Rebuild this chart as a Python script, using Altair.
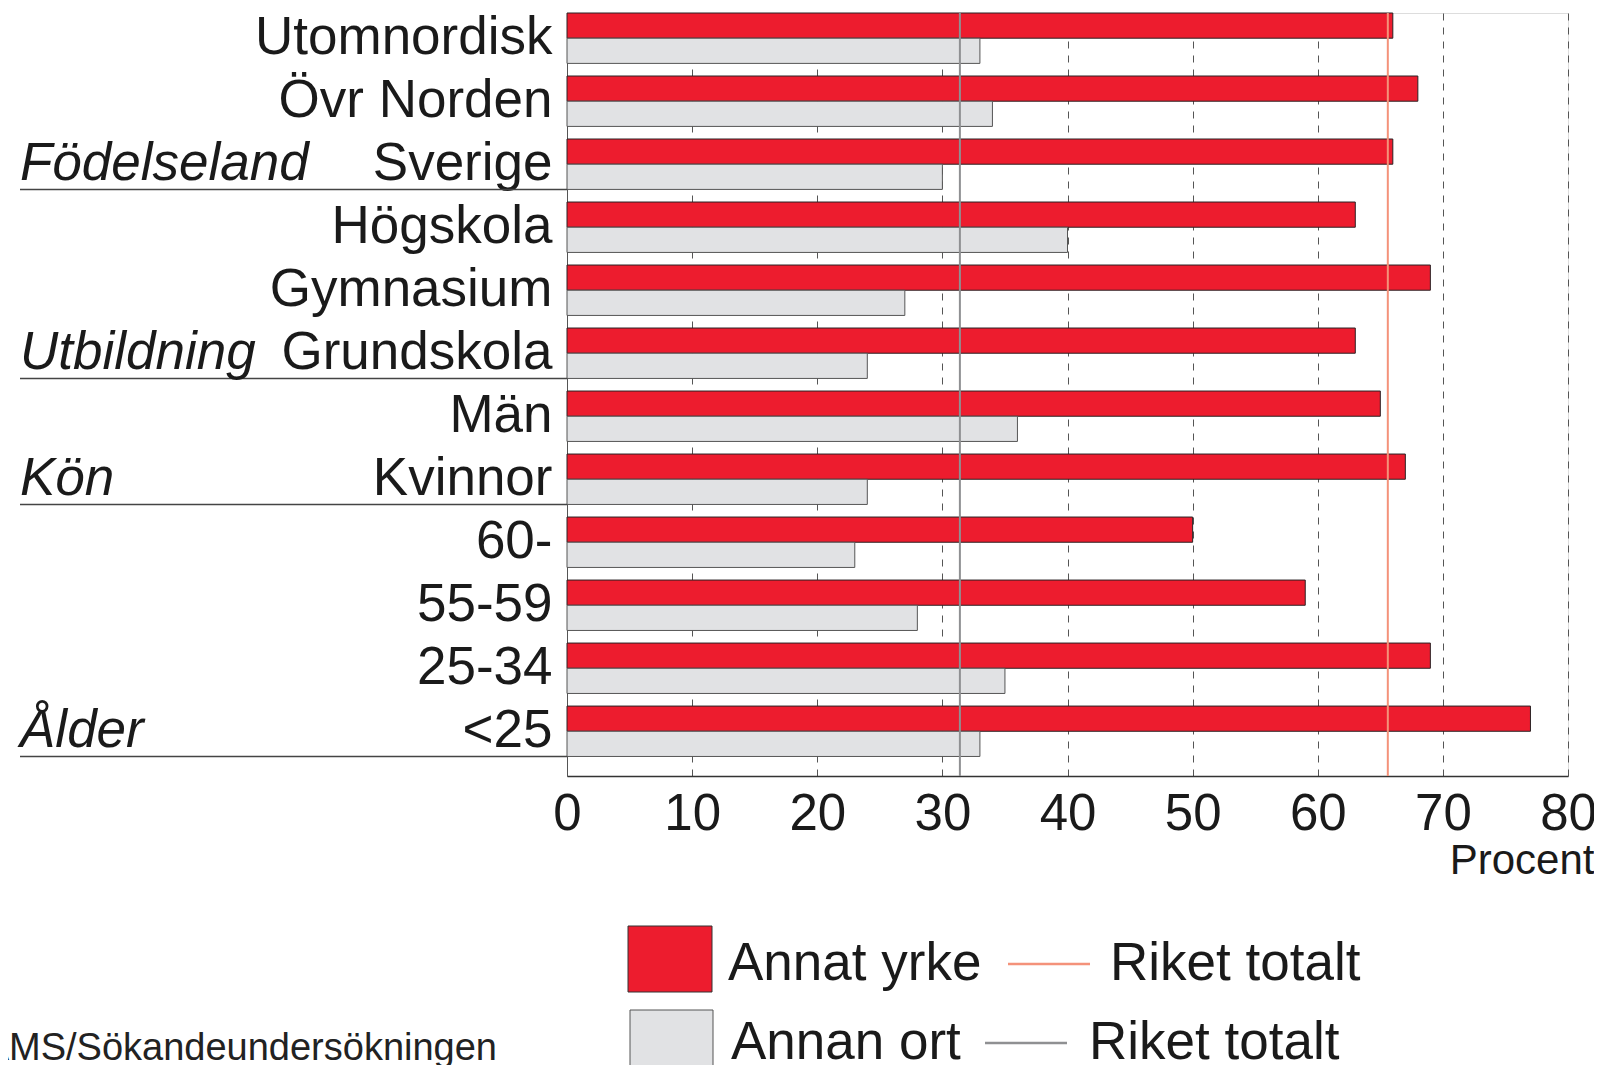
import altair as alt
import pandas as pd

# ---------------- data ----------------
categories = ["Utomnordisk", "Övr Norden", "Sverige", "Högskola", "Gymnasium",
              "Grundskola", "Män", "Kvinnor", "60-", "55-59", "25-34", "<25"]
annat_yrke = [66, 68, 66, 63, 69, 63, 65, 67, 50, 59, 69, 77]
annan_ort = [33, 34, 30, 40, 27, 24, 36, 24, 23, 28, 35, 33]
series = ["Annat yrke", "Annan ort"]
riket_totalt = [65.6, 31.4]          # Annat yrke, Annan ort
groups = ["Födelseland", "Utbildning", "Kön", "Ålder"]
group_last = ["Sverige", "Grundskola", "Kvinnor", "<25"]
x_ticks = [0, 10, 20, 30, 40, 50, 60, 70, 80]
axis_title = "Procent"
line_label = "Riket totalt"
source_text = "Källa: AMS/Sökandeundersökningen"

rows = []
for c, a, b in zip(categories, annat_yrke, annan_ort):
    rows.append({"cat": c, "series": series[0], "value": a})
    rows.append({"cat": c, "series": series[1], "value": b})
bars_df = pd.DataFrame(rows)
riket_df = pd.DataFrame({"series": series, "v": riket_totalt})
group_df = pd.DataFrame({"cat": group_last, "group": groups})

# ---------------- style ----------------
FONT = "Liberation Sans"
RED = "#ED1C2E"
GREY = "#E1E2E4"
SALMON = "#F4927A"
LINEGREY = "#8F9092"
TXT = "#1a1a1a"
W, H = 1001, 763

xscale = alt.Scale(domain=[0, 80], nice=False, zero=True)
yscale = alt.Scale(domain=categories, paddingInner=0.2, paddingOuter=0.155, align=0)

xaxis = alt.Axis(values=x_ticks, grid=True, gridDash=[7, 7], gridColor="#555555",
                 gridWidth=1, ticks=False, tickSize=0, domain=True,
                 domainColor="#333333", domainWidth=1.5, labelFont=FONT,
                 labelFontSize=51, labelColor=TXT, labelPadding=38,
                 labelBaseline="middle", labelFlush=False, labelOverlap=False,
                 title=axis_title, titleFont=FONT,
                 titleFontSize=42, titleFontWeight="normal", titleColor=TXT,
                 titleX=1027, titleY=84, titleAlign="right", titleBaseline="middle")
yaxis = alt.Axis(title=None, ticks=False, tickSize=0, domain=True,
                 domainColor="#555555", domainWidth=1, labelFont=FONT,
                 labelFontSize=53, labelColor=TXT, labelPadding=15, labelLimit=0,
                 grid=False)

bars = alt.Chart(bars_df).mark_bar(strokeWidth=1).encode(
    x=alt.X("value:Q", scale=xscale, axis=xaxis),
    y=alt.Y("cat:N", scale=yscale, axis=yaxis),
    yOffset=alt.YOffset("series:N", scale=alt.Scale(domain=series, paddingInner=0, paddingOuter=0)),
    color=alt.Color("series:N", scale=alt.Scale(domain=series, range=[RED, GREY]), legend=None),
    stroke=alt.Stroke("series:N", scale=alt.Scale(domain=series, range=["#2a2224", "#555555"]), legend=None),
)

rule_yrke = alt.Chart(riket_df).transform_filter(alt.datum.series == series[0]).mark_rule(
    color=SALMON, strokeWidth=2).encode(x=alt.X("v:Q", scale=xscale, axis=xaxis))
rule_ort = alt.Chart(riket_df).transform_filter(alt.datum.series == series[1]).mark_rule(
    color=LINEGREY, strokeWidth=2).encode(x=alt.X("v:Q", scale=xscale, axis=xaxis))

separators = alt.Chart(group_df).mark_rule(color="#444444", strokeWidth=1.5).encode(
    x=alt.value(-547), x2=alt.value(0),
    y=alt.Y("cat:N", scale=yscale, axis=yaxis, bandPosition=1),
)

group_text = alt.Chart(group_df).mark_text(
    align="left", baseline="middle", font=FONT, fontSize=53, fontStyle="italic", color=TXT
).encode(
    x=alt.value(-547),
    y=alt.Y("cat:N", scale=yscale, axis=yaxis),
    text="group:N",
)

leg1 = pd.DataFrame({"s": [series[0]]})
leg2 = pd.DataFrame({"s": [series[1]]})
legl = pd.DataFrame({"s": [line_label]})
src = pd.DataFrame({"s": [source_text]})

def ltext(df, x, y, size=53):
    return alt.Chart(df).mark_text(align="left", baseline="middle", font=FONT,
                                   fontSize=size, color=TXT).encode(
        x=alt.value(x), y=alt.value(y), text="s:N")

legend_layers = [
    alt.Chart(leg1).mark_rect(color=RED, stroke="#333333", strokeWidth=1).encode(
        x=alt.value(61), x2=alt.value(145), y=alt.value(913), y2=alt.value(979)),
    alt.Chart(leg2).mark_rect(color=GREY, stroke="#555555", strokeWidth=1).encode(
        x=alt.value(63), x2=alt.value(146), y=alt.value(997), y2=alt.value(1080)),
    ltext(leg1, 161, 951),
    ltext(leg2, 164, 1030),
    alt.Chart(legl).mark_rule(color=SALMON, strokeWidth=2.5).encode(
        x=alt.value(441), x2=alt.value(523), y=alt.value(951)),
    alt.Chart(legl).mark_rule(color=LINEGREY, strokeWidth=2.5).encode(
        x=alt.value(418), x2=alt.value(500), y=alt.value(1030)),
    ltext(legl, 543, 951),
    ltext(legl, 522, 1030),
    alt.Chart(src).mark_text(align="right", baseline="middle", font=FONT,
                             fontSize=38, color="#222222").encode(
        x=alt.value(-70), y=alt.value(1036), text="s:N"),
]

chart = alt.layer(bars, rule_ort, rule_yrke, separators, group_text, *legend_layers).properties(
    width=W, height=H,
    autosize=alt.AutoSizeParams(type="none"),
    padding={"left": 559, "top": 5, "right": 26, "bottom": 289},
).configure_view(strokeWidth=0).configure(background="white")

chart.save("out.html", embed_options={"renderer": "svg", "actions": False})
